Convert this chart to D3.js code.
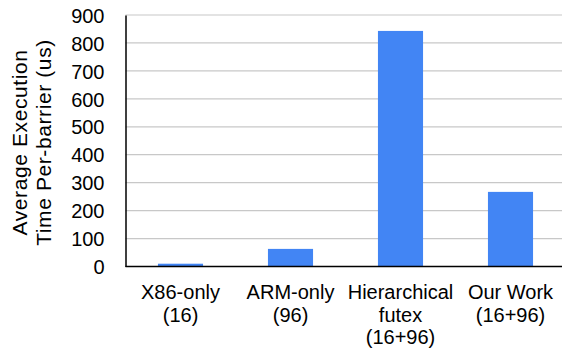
<!DOCTYPE html>
<html><head><meta charset="utf-8">
<script src="https://cdn.jsdelivr.net/npm/d3@7"></script>
<style>body{margin:0;background:#fff}svg{display:block}text{font-family:Arial,"Liberation Sans",sans-serif;fill:#000}</style>
</head><body>
<script>
const categories = [["X86-only","(16)"],["ARM-only","(96)"],["Hierarchical","futex","(16+96)"],["Our Work","(16+96)"]];
const values = [10, 63, 843, 267];
const yTicks = [0,100,200,300,400,500,600,700,800,900];
const yTitle = ["Average Execution","Time Per-barrier (us)"];

(function(){
const W = 562, H = 351;
const svg = d3.select("body").append("svg").attr("width", W).attr("height", H);
const pL = 125.5, pR = 565.5, pT = 15, pB = 266.5;
const x = d3.scaleBand().domain(d3.range(categories.length)).range([pL, pR]).paddingInner(0.59).paddingOuter(0.295);
const y = d3.scaleLinear().domain([0, 900]).range([pB, pT]);

// gridlines
svg.append("g").selectAll("line").data(yTicks.slice(1)).join("line")
  .attr("x1", pL).attr("x2", W).attr("y1", d => y(d)).attr("y2", d => y(d))
  .attr("stroke", "#c8c8c8").attr("stroke-width", 1.2);

// bars
svg.append("g").selectAll("rect").data(values).join("rect")
  .attr("x", (d, i) => x(i)).attr("width", x.bandwidth())
  .attr("y", d => y(d)).attr("height", d => y(0) - y(d))
  .attr("fill", "#4285f4");

// axes
const ya = d3.axisLeft(y).tickValues(yTicks).tickSize(0).tickPadding(21);
const gy = svg.append("g").attr("transform", `translate(${pL},0)`).call(ya);
gy.select(".domain").attr("stroke", "#000").attr("stroke-width", 1.5);
gy.selectAll("text").style("font-size", "20px").attr("dy", "0.36em");

svg.append("line").attr("x1", pL).attr("x2", W).attr("y1", pB).attr("y2", pB)
  .attr("stroke", "#000").attr("stroke-width", 1.5);

// x labels
const xl = svg.append("g").selectAll("text").data(categories).join("text")
  .attr("text-anchor", "middle").style("font-size", "20px")
  .attr("transform", (d, i) => `translate(${x(i) + x.bandwidth() / 2},299)`);
xl.selectAll("tspan").data(d => d).join("tspan")
  .attr("x", 0).attr("y", (d, j) => j * 22.7).text(d => d);

// y title
const yt = svg.append("text").attr("text-anchor", "middle").style("font-size", "21px")
  .style("letter-spacing", "0.6px")
  .attr("transform", "translate(0,142.5) rotate(-90)");
yt.selectAll("tspan").data(yTitle).join("tspan")
  .attr("x", 0).attr("y", (d, j) => 26.7 + j * 24).text(d => d);
})();
</script>
</body></html>
